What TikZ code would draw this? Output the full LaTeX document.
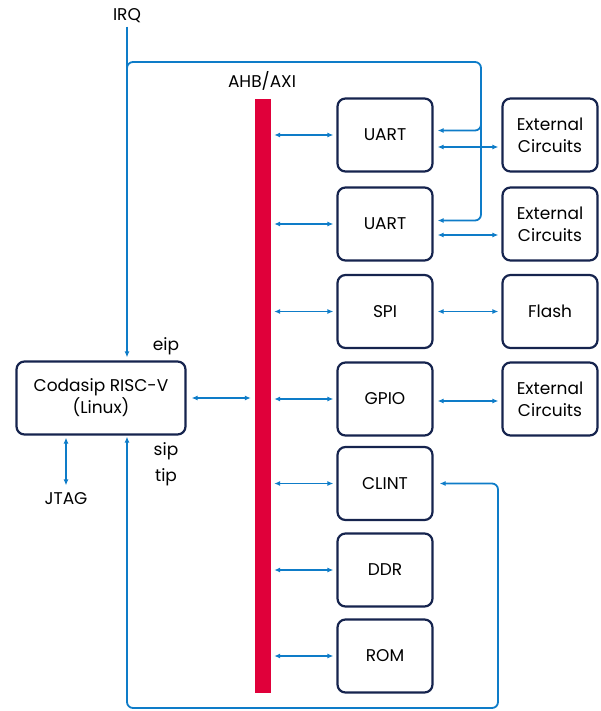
\documentclass[tikz,border=0pt]{standalone}
\usepackage{fontspec}
\setmainfont{Poppins}
\usetikzlibrary{calc,arrows.meta}
\usetikzlibrary{positioning}
\definecolor{busred}{RGB}{224,0,58}
\definecolor{linkblue}{RGB}{14,124,200}
\definecolor{boxnavy}{RGB}{22,36,78}

\begin{document}
\begin{tikzpicture}[x=1pt,y=-1pt,
  blk/.style={draw=boxnavy, line width=2.2pt, rounded corners=8pt,
    minimum width=95pt, minimum height=73pt, align=center,
    font=\fontsize{17}{22}\selectfont},
  lbl/.style={font=\fontsize{17}{22}\selectfont},
  link/.style={draw=linkblue, line width=1.8pt,
    {Latex[length=6pt,width=5pt]}-{Latex[length=6pt,width=5pt]}},
  wire/.style={draw=linkblue, line width=1.8pt, rounded corners=6pt}]
\useasboundingbox (0,0) rectangle (601,711);
%% bus
\node[fill=busred, minimum width=16pt, minimum height=594pt, inner sep=0pt] (bus) at (263,396) {};
\node[lbl] (busname) at (262,81) {AHB/AXI};
%% peripherals
\node[blk] (uartA) at (385,135) {UART};
\node[blk] (uartB) at (385,224) {UART};
\node[blk] (spi) at (385,311.5) {SPI};
\node[blk] (gpio) at (385,399) {GPIO};
\node[blk] (clint) at (385,483.5) {CLINT};
\node[blk] (ddr) at (385,570) {DDR};
\node[blk] (rom) at (385,656) {ROM};
%% outside world
\node[blk] (extA) at (550,135) {External\\Circuits};
\node[blk] (extB) at (550,224) {External\\Circuits};
\node[blk] (flash) at (550,311.5) {Flash};
\node[blk] (extC) at (550,399) {External\\Circuits};
%% core
\node[blk, minimum width=169pt] (cpu) at (101,398) {Codasip RISC-V\\(Linux)};
\node[lbl] (irq) at (127,16) {IRQ};
\node[lbl] (jtag) at (66,499) {JTAG};
\node[lbl] (eip) at (166,346) {eip};
\node[lbl] (sip) at (166,451) {sip};
\node[lbl] (tip) at (166,477) {tip};

%%% bus links
\foreach \b in {uartA,uartB,spi,gpio,clint,ddr,rom}
  \draw[link, shorten <=3pt, shorten >=3pt] (bus.east |- \b.west) -- (\b.west);
\draw[link, shorten <=5pt, shorten >=4pt] (cpu.east) -- (bus.west |- cpu.east);
%%% peripheral to outside
\draw[link, shorten <=4pt, shorten >=3pt] ([yshift=-12pt]uartA.east) -- ([yshift=-12pt]extA.west);
\draw[link, shorten <=4pt, shorten >=3pt] ([yshift=-11pt]uartB.east) -- ([yshift=-11pt]extB.west);
\draw[link, shorten <=4pt, shorten >=3pt] (spi.east) -- (flash.west);
\draw[link, shorten <=4pt, shorten >=3pt] ([yshift=-2pt]gpio.east) -- ([yshift=-2pt]extC.west);
%%% JTAG
\draw[link, shorten <=2pt, shorten >=4pt] (cpu.south -| jtag) -- (jtag.north);

%%% interrupt lines
\coordinate (irqTop) at (481,62);
\coordinate (loopR) at (498,708);
% IRQ into the core
\draw[wire, -{Latex[length=6pt,width=5pt]}, shorten >=3pt] (irq.south) -- (cpu.north -| irq);
% UART interrupts
\draw[wire, -{Latex[length=6pt,width=5pt]}, shorten >=4pt]
  (irq.south |- 0,80) -- (irq.south |- irqTop) -- (irqTop)
  -- (irqTop |- 0,220.5) -- ([yshift=3.5pt]uartB.east);
\draw[wire, -{Latex[length=6pt,width=5pt]}, shorten >=4pt]
  (irqTop |- 0,115) -- (irqTop |- 0,130.5) -- ([yshift=4.5pt]uartA.east);
% CLINT back to the core (sip, tip)
\draw[link, rounded corners=6pt, shorten <=1pt, shorten >=6pt]
  (cpu.south -| irq) -- (irq |- loopR) -- (loopR) -- (loopR |- clint.east) -- (clint.east);
\end{tikzpicture}
\end{document}
